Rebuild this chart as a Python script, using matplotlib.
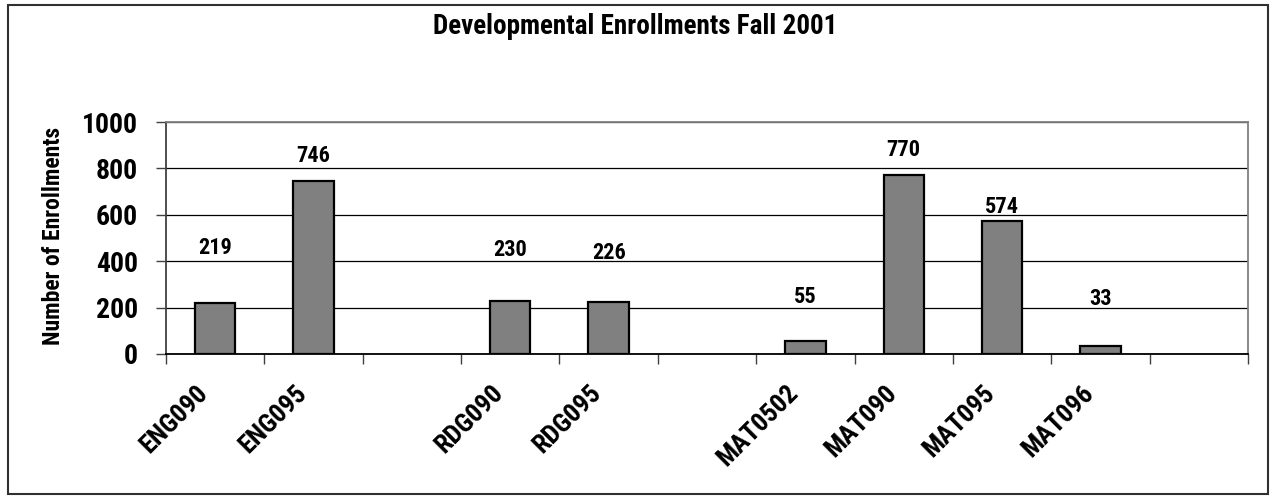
import matplotlib.pyplot as plt
from matplotlib.patches import Rectangle
from matplotlib.transforms import ScaledTranslation
from matplotlib import font_manager

# course slots, blanks keep the gaps between subject groups
courses = ['ENG090', 'ENG095', '', 'RDG090', 'RDG095', '', 'MAT0502', 'MAT090', 'MAT095', 'MAT096', '']
enrollments = [219, 746, None, 230, 226, None, 55, 770, 574, 33, None]
# where Excel left each data label (in y-axis units)
label_y = [458, 853, None, 448, 435, None, 246, 879, 634, 237, None]
y_ticks = [0, 200, 400, 600, 800, 1000]

names = {f.name for f in font_manager.fontManager.ttflist}
narrow = [n for n in ['Liberation Sans Narrow', 'Arial Narrow', 'Roboto Condensed'] if n in names]
plt.rcParams['font.family'] = narrow + ['DejaVu Sans']
plt.rcParams['font.stretch'] = 'condensed'
plt.rcParams['font.weight'] = 'bold'

fig = plt.figure(figsize=(12.7, 4.96), dpi=100)
ax = fig.add_axes([166 / 1270, 1 - 354 / 496, (1248 - 166) / 1270, (354 - 122) / 496])

xs = list(range(len(courses)))
for x, v, ly in zip(xs, enrollments, label_y):
    if v is None:
        continue
    ax.bar(x, v, width=0.41, color='#808080', edgecolor='black', linewidth=1.6, zorder=3)
    ax.text(x, ly, str(v), ha='center', va='center', fontsize=16, fontweight='bold')

ax.set_xlim(-0.5, len(courses) - 0.5)
ax.set_ylim(0, 1000)
ax.set_yticks(y_ticks)
ax.set_yticklabels([str(t) for t in y_ticks], fontsize=20, fontweight='bold')
ax.yaxis.grid(True, color='black', linewidth=0.9, zorder=0)

# labels at bar centres, tick marks on the slot boundaries
ax.set_xticks(xs)
ax.set_xticklabels(courses, rotation=45, ha='right', va='top', rotation_mode='anchor',
                   fontsize=19, fontweight='bold')
ax.tick_params(axis='x', which='major', length=0, pad=19)
shift = ScaledTranslation(-0.19, 0, fig.dpi_scale_trans)
for lab in ax.get_xticklabels():
    lab.set_transform(lab.get_transform() + shift)
ax.set_xticks([i - 0.5 for i in range(len(courses) + 1)], minor=True)
ax.tick_params(axis='x', which='minor', length=7, width=1, color='#404040', direction='out')
ax.tick_params(axis='y', length=7, width=1, color='#404040', pad=13)

ax.spines['top'].set_color('#808080')
ax.spines['right'].set_color('#808080')
ax.spines['left'].set_color('#404040')
ax.spines['bottom'].set_color('black')
for s in ax.spines.values():
    s.set_linewidth(1.3)

ax.set_ylabel('Number of Enrollments', fontsize=17, fontweight='bold')
ax.yaxis.set_label_coords(65 / 1270, 0.5, transform=fig.transFigure)
ax.yaxis.label.set_y(1 - 236 / 496)

fig.text(0.5, 1 - 27 / 496, 'Developmental Enrollments Fall 2001', ha='center', va='center',
         fontsize=19.5, fontweight='bold')

fig.patches.append(Rectangle((8 / 1270, 1 - 494 / 496), 1260 / 1270, 489 / 496,
                             transform=fig.transFigure, fill=False,
                             edgecolor='#303030', linewidth=1.5))

fig.savefig('out.png', dpi=100)
